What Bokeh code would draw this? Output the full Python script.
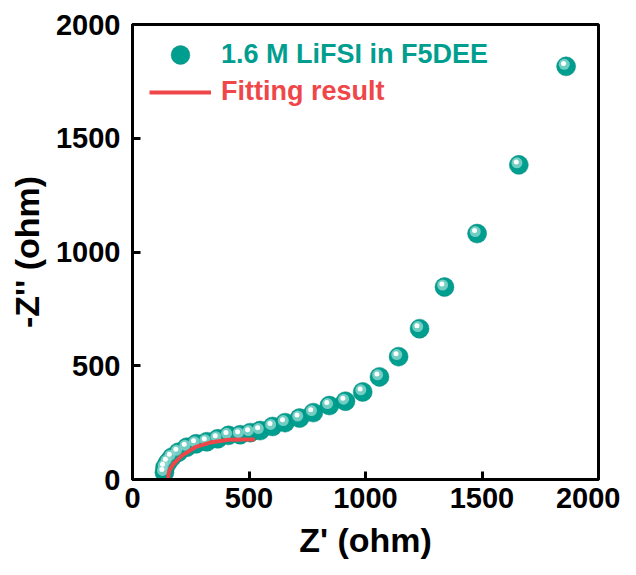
from bokeh.plotting import figure
from bokeh.models import (ColumnDataSource, Legend, LegendItem, FixedTicker, Range1d)
from bokeh.transform import dodge
from bokeh.embed import file_html
from bokeh.resources import INLINE

# ---- data ----
z_re = [137, 140, 152, 169, 197, 233, 273, 319, 366, 412, 462, 505, 548, 601,
        655, 717, 776, 845, 914, 988, 1060, 1142, 1232, 1339, 1479, 1658, 1861]
z_im = [31, 54, 76, 98, 120, 142, 157, 166, 179, 194, 197, 206, 215, 233,
        250, 270, 294, 325, 344, 385, 451, 540, 663, 846, 1081, 1383, 1816]
fit_re = [152, 158, 176, 212, 269, 340, 412, 484, 525]
fit_im = [3, 40, 69, 105, 142, 164, 175, 176, 176]
ticks = [0, 500, 1000, 1500, 2000]
series_label = "1.6 M LiFSI in F5DEE"
fit_label = "Fitting result"

TEAL = "#009E8F"
RED = "#EF4749"
FONT = "Liberation Sans"

p = figure(width=620, height=562, output_backend="svg", toolbar_location=None,
           x_range=Range1d(0, 2000), y_range=Range1d(0, 2000),
           frame_width=466, frame_height=455,
           min_border_left=132, min_border_right=22, min_border_top=24, min_border_bottom=83)
p.background_fill_color = "white"
p.border_fill_color = "white"
p.outline_line_color = "black"
p.outline_line_width = 3
p.xgrid.visible = False
p.ygrid.visible = False

src = ColumnDataSource(dict(x=z_re, y=z_im))
fsrc = ColumnDataSource(dict(x=fit_re, y=fit_im))

r_base = p.scatter("x", "y", source=src, size=19, fill_color=TEAL, line_color="#00897B", line_width=0.5)
r_hl = p.scatter(dodge("x", -8, range=p.x_range), dodge("y", 9, range=p.y_range), source=src,
                 size=11, fill_color="#8ED8CF", fill_alpha=0.8, line_color=None)
r_spot = p.scatter(dodge("x", -11, range=p.x_range), dodge("y", 13, range=p.y_range), source=src,
                   size=5, fill_color="white", line_color=None)
r_fit = p.line("x", "y", source=fsrc, line_color=RED, line_width=4)

for ax in (p.xaxis[0], p.yaxis[0]):
    ax.ticker = FixedTicker(ticks=ticks)
    ax.axis_line_width = 3
    ax.major_tick_line_width = 3
    ax.major_tick_in = 8
    ax.major_tick_out = 0
    ax.minor_tick_line_color = None
    ax.major_label_text_font = FONT
    ax.major_label_text_font_style = "bold"
    ax.major_label_text_font_size = "29px"
    ax.major_label_text_color = "black"
    ax.axis_label_text_font = FONT
    ax.axis_label_text_font_style = "bold"
    ax.axis_label_text_font_size = "34px"
    ax.axis_label_text_color = "black"

p.xaxis.axis_label = "Z' (ohm)"
p.yaxis.axis_label = "-Z'' (ohm)"
p.xaxis.major_label_standoff = 8
p.yaxis.major_label_standoff = 12
p.xaxis.axis_label_standoff = 10
p.yaxis.axis_label_standoff = 7

def mk_legend(item, loc, color, gh):
    lg = Legend(items=[item], location=loc, glyph_width=62, glyph_height=gh,
                label_standoff=10, padding=0, margin=0, spacing=0,
                border_line_color=None, background_fill_alpha=0,
                label_text_font=FONT, label_text_font_style="bold",
                label_text_font_size="27px", label_text_color=color)
    return lg

lg1 = mk_legend(LegendItem(label=series_label, renderers=[r_base]), (17, 401), TEAL, 47)
lg2 = mk_legend(LegendItem(label=fit_label, renderers=[r_fit]), (17, 372), RED, 30)
p.add_layout(lg1)
p.add_layout(lg2)

open("out.html", "w").write(file_html(p, INLINE))
